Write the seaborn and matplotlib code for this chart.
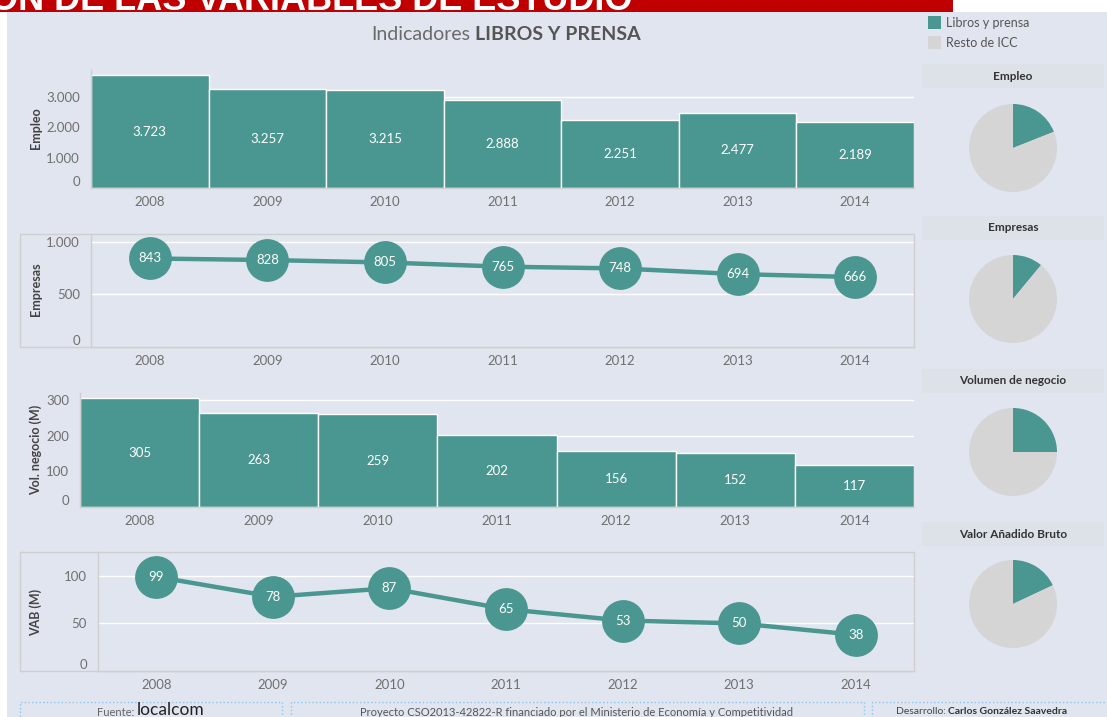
import matplotlib
matplotlib.use("Agg")
import matplotlib.pyplot as plt
import matplotlib.patches as mpatches
import pandas as pd
import seaborn as sns

years = ["2008", "2009", "2010", "2011", "2012", "2013", "2014"]
empleo = [3723, 3257, 3215, 2888, 2251, 2477, 2189]
empresas = [843, 828, 805, 765, 748, 694, 666]
vol_negocio = [305, 263, 259, 202, 156, 152, 117]
vab = [99, 78, 87, 65, 53, 50, 38]

# peso de libros y prensa sobre el total ICC (%)
pie_titles = ["Empleo", "Empresas", "Volumen de negocio", "Valor Añadido Bruto"]
pie_share = [19, 11, 25, 18]
legend_labels = ["Libros y prensa", "Resto de ICC"]

TEAL = "#4A9690"
GREY_PIE = "#D5D5D5"
BG = "#E1E5EF"
TXT = "#707070"
DARK = "#444444"
LINE = "#CFCFCF"

W, H = 1107, 717

sns.set_style("white")
plt.rcParams["font.family"] = ["Lato", "DejaVu Sans"]


def box(x0, y0, x1, y1):
    # pixel box (top-left origin) -> figure fraction
    return [x0 / W, 1 - y1 / H, (x1 - x0) / W, (y1 - y0) / H]


def fmt(v):
    return f"{v:,}".replace(",", ".")


def style_axes(ax, yticks, ylim):
    ax.set_facecolor("none")
    ax.set_xlim(-0.5, 6.5)
    ax.set_ylim(*ylim)
    ax.set_yticks(yticks)
    ax.set_yticklabels([fmt(t) for t in yticks])
    ax.grid(axis="y", color="white", lw=1)
    ax.grid(axis="x", visible=False)
    ax.set_axisbelow(True)
    for s in ["top", "right"]:
        ax.spines[s].set_visible(False)
    for s in ["left", "bottom"]:
        ax.spines[s].set_color(LINE)
        ax.spines[s].set_linewidth(1)
    ax.set_xticks(range(len(years)))
    ax.set_xticklabels(years)
    ax.set_xticks([i + 0.5 for i in range(-1, len(years))], minor=True)
    ax.tick_params(axis="y", length=0, labelsize=9.5, labelcolor=TXT, pad=8)
    ax.tick_params(axis="x", which="major", length=0, labelsize=9.5, labelcolor=TXT, pad=6)
    ax.tick_params(axis="x", which="minor", length=5, color=LINE, width=1)
    ax.set_xlabel("")
    ax.set_ylabel("")
    # Tableau sube la etiqueta del 0
    ax.get_yticklabels()[0].set_verticalalignment("bottom")


def bar_panel(rect, values, yticks, ylim, label, label_y):
    ax = fig.add_axes(box(*rect))
    df = pd.DataFrame({"year": years, "value": values})
    sns.barplot(data=df, x="year", y="value", color=TEAL, saturation=1,
                width=1.0, edgecolor="white", linewidth=1, ax=ax)
    for i, v in enumerate(values):
        ax.text(i, v / 2, fmt(v), ha="center", va="center", color="white", fontsize=9.5)
    style_axes(ax, yticks, ylim)
    fig.text(36 / W, 1 - label_y / H, label, rotation=90, ha="center", va="center",
             fontsize=9, color=DARK, fontweight="bold")
    return ax


def line_panel(rect, frame, values, yticks, ylim, label, label_y):
    fx0, fy0, fx1, fy1 = frame
    fig.patches.append(mpatches.Rectangle((fx0 / W, 1 - fy1 / H), (fx1 - fx0) / W, (fy1 - fy0) / H,
                                          transform=fig.transFigure, fill=False,
                                          edgecolor=LINE, lw=1, zorder=0))
    ax = fig.add_axes(box(*rect))
    df = pd.DataFrame({"year": years, "value": values})
    sns.lineplot(data=df, x="year", y="value", color=TEAL, lw=3.2, sort=False, ax=ax)
    sns.scatterplot(data=df, x="year", y="value", color=TEAL, s=950, linewidth=0, ax=ax, zorder=3)
    for i, v in enumerate(values):
        ax.text(i, v, fmt(v), ha="center", va="center", color="white", fontsize=9.5, zorder=4)
    style_axes(ax, yticks, ylim)
    fig.text(36 / W, 1 - label_y / H, label, rotation=90, ha="center", va="center",
             fontsize=9, color=DARK, fontweight="bold")
    return ax


fig = plt.figure(figsize=(W / 100, H / 100), dpi=100, facecolor="white")

# fondo del dashboard
fig.patches.append(mpatches.Rectangle((7 / W, 0), 1 - 7 / W, 1 - 12 / H, transform=fig.transFigure,
                                      facecolor=BG, edgecolor="none", zorder=-5))

# banda roja superior (titulo cortado)
ban = fig.add_axes(box(0, 0, 953, 12))
ban.set_xlim(0, 953)
ban.set_ylim(12, 0)
ban.axis("off")
ban.add_patch(mpatches.Rectangle((0, 0), 953, 12, facecolor="#C00000", edgecolor="none"))
ban.text(-10, 10.5, "ÓN DE LAS VARIABLES DE ESTUDIO", color="white", fontsize=26,
         fontweight="bold", family="Liberation Sans", va="baseline", ha="left", clip_on=True)

# titulo
fig.text(470 / W, 1 - 34 / H, "Indicadores", ha="right", va="center", fontsize=14, color="#6A6A6A")
fig.text(475 / W, 1 - 34 / H, "LIBROS Y PRENSA", ha="left", va="center", fontsize=14,
         color="#555555", fontweight="bold")

bar_panel((91, 70, 914, 188), empleo, [0, 1000, 2000, 3000], (0, 3890), "Empleo", 128)
line_panel((91, 234, 914, 347), (20, 234, 914, 347), empresas, [0, 500, 1000], (0, 1076),
           "Empresas", 289)
bar_panel((80, 393, 914, 507), vol_negocio, [0, 100, 200, 300], (0, 319), "Vol. negocio (M)", 450)
line_panel((98, 552, 914, 671), (20, 552, 914, 671), vab, [0, 50, 100], (0, 125), "VAB (M)", 612)

# leyenda
for k, (lab, col) in enumerate(zip(legend_labels, [TEAL, GREY_PIE])):
    y0 = 16 + k * 20
    fig.patches.append(mpatches.Rectangle((928 / W, 1 - (y0 + 13) / H), 13 / W, 13 / H,
                                          transform=fig.transFigure, facecolor=col, edgecolor="none"))
    fig.text(946 / W, 1 - (y0 + 7) / H, lab, ha="left", va="center", fontsize=9, color="#555555")

# tartas
title_y = [76, 228, 381, 534]
pie_cy = [148, 299, 452, 604]
R = 44
for name, share, ty, cy in zip(pie_titles, pie_share, title_y, pie_cy):
    fig.patches.append(mpatches.Rectangle((922 / W, 1 - (ty + 12) / H), 182 / W, 24 / H,
                                          transform=fig.transFigure, facecolor="#DCE2E7",
                                          edgecolor="none", zorder=-1))
    fig.text(1013 / W, 1 - ty / H, name, ha="center", va="center", fontsize=8.5,
             color="#333333", fontweight="bold")
    pax = fig.add_axes(box(1013 - R, cy - R, 1013 + R, cy + R))
    pax.pie([share, 100 - share], colors=[TEAL, GREY_PIE], startangle=90, counterclock=False,
            radius=1, wedgeprops={"linewidth": 0})
    pax.set_xlim(-1, 1)
    pax.set_ylim(-1, 1)
    pax.set_aspect("equal")
    pax.axis("off")

# pie de pagina
for x0, x1 in [(20, 282), (291, 864), (872, 1110)]:
    fig.patches.append(mpatches.Rectangle((x0 / W, -0.02), (x1 - x0) / W, 0.02 + (717 - 702) / H,
                                          transform=fig.transFigure, fill=False,
                                          edgecolor="#8CC4EE", lw=1, linestyle=":"))
fig.text(134 / W, 1 - 712 / H, "Fuente:", ha="right", va="center", fontsize=8, color="#666666")
fig.text(137 / W, 1 - 710 / H, "localcom", ha="left", va="center", fontsize=12.5, color="#222222")
fig.text(577 / W, 1 - 712 / H,
         "Proyecto CSO2013-42822-R financiado por el Ministerio de Economía y Competitividad",
         ha="center", va="center", fontsize=8, color="#555555")
fig.text(946 / W, 1 - 712 / H, "Desarrollo:", ha="right", va="center", fontsize=7.5, color="#444444")
fig.text(948 / W, 1 - 712 / H, "Carlos González Saavedra", ha="left", va="center", fontsize=7.5,
         color="#333333", fontweight="bold")

fig.savefig("out.png", dpi=100, facecolor="white")
